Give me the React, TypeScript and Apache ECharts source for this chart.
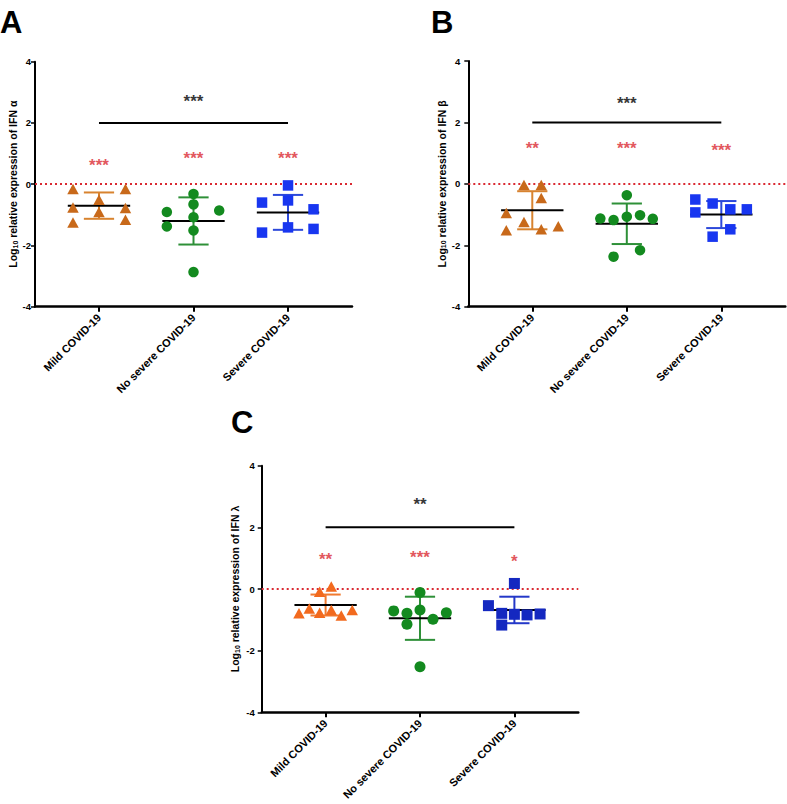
import React, { useEffect, useRef } from "react";
import * as echarts from "echarts";

// ---------- data ----------
const CATEGORIES = ["Mild COVID-19", "No severe COVID-19", "Severe COVID-19"];

// Panel A: IFN alpha (x = jitter offset around the category, y = log10 value)
const A_MILD_X = [-0.275, -0.275, -0.275, 0, 0, 0.28, 0.28, 0.28];
const A_MILD_Y = [-0.16, -0.76, -1.25, -0.51, -0.91, -0.16, -0.78, -1.16];
const A_NOSEV_X = [0, 0, 0, 0, 0, -0.282, -0.282, 0.272];
const A_NOSEV_Y = [-0.32, -0.66, -1.08, -1.51, -2.87, -0.91, -1.38, -0.86];
const A_SEV_X = [0, 0, 0, -0.275, -0.275, 0.27, 0.27];
const A_SEV_Y = [-0.04, -0.53, -1.41, -0.6, -1.58, -0.82, -1.46];
const A_MEAN = [-0.7, -1.2, -0.92];
const A_SD = [0.43, 0.77, 0.57];
const A_STARS = ["***", "***", "***"];
const A_STAR_Y = [0.74, 0.96, 0.96];
const A_TOP = "***";
const A_TOP_Y = 2.83;

// Panel B: IFN beta
const B_MILD_X = [-0.088, 0.095, 0.095, -0.275, -0.088, -0.275, 0.095, 0.275];
const B_MILD_Y = [-0.04, -0.04, -0.46, -0.95, -1.24, -1.51, -1.48, -1.38];
const B_NOSEV_X = [0, -0.28, -0.14, 0, 0.14, 0.275, 0.14, -0.14];
const B_NOSEV_Y = [-0.37, -1.13, -1.18, -1.07, -1.02, -1.14, -2.16, -2.37];
const B_SEV_X = [-0.275, -0.275, -0.092, 0.095, 0.27, 0.095, -0.092];
const B_SEV_Y = [-0.51, -0.93, -0.64, -0.83, -0.83, -1.48, -1.72];
const B_MEAN = [-0.86, -1.3, -1.0];
const B_SD = [0.62, 0.66, 0.44];
const B_STARS = ["**", "***", "***"];
const B_STAR_Y = [1.28, 1.28, 1.2];
const B_TOP = "***";
const B_TOP_Y = 2.72;

// Panel C: IFN lambda
const C_MILD_X = [0.06, -0.063, -0.173, -0.282, -0.063, 0.06, 0.166, 0.282];
const C_MILD_Y = [0.08, -0.09, -0.63, -0.79, -0.77, -0.68, -0.86, -0.68];
const C_NOSEV_X = [0, 0, -0.279, -0.138, 0.279, -0.138, 0.138, 0];
const C_NOSEV_Y = [-0.11, -0.68, -0.71, -0.79, -0.77, -1.14, -0.98, -2.52];
const C_SEV_X = [0, -0.275, -0.134, -0.134, 0, 0.134, 0.272];
const C_SEV_Y = [0.18, -0.54, -0.79, -1.17, -0.82, -0.84, -0.81];
const C_MEAN = [-0.52, -0.95, -0.68];
const C_SD = [0.34, 0.7, 0.43];
const C_STARS = ["**", "***", "*"];
const C_STAR_Y = [1.07, 1.13, 0.99];
const C_TOP = "**";
const C_TOP_Y = 2.85;

// ---------- styling ----------
const FONT = "'Liberation Sans', Arial, sans-serif";
const RED = "#DA2A32";

type Panel = {
  letter: string;
  ifn: string;
  grid: { left: number; top: number; width: number; height: number };
  nameGap: number;
  labelMargin: number;
  groups: { x: number[]; y: number[]; symbol: string; size: any; color: string; errColor: string }[];
  mean: number[];
  sd: number[];
  stars: string[];
  starY: number[];
  top: string;
  topY: number;
  letterPos: [number, number];
};

const PANELS: Panel[] = [
  {
    letter: "A",
    ifn: "α",
    grid: { left: 35, top: 61.7, width: 317, height: 245 },
    nameGap: 15,
    labelMargin: 4,
    groups: [
      { x: A_MILD_X, y: A_MILD_Y, symbol: "triangle", size: [11.5, 10.5], color: "#C8691A", errColor: "#D8832F" },
      { x: A_NOSEV_X, y: A_NOSEV_Y, symbol: "circle", size: 10.5, color: "#138A1F", errColor: "#2E9038" },
      { x: A_SEV_X, y: A_SEV_Y, symbol: "rect", size: 10.5, color: "#1836F0", errColor: "#2C48DA" },
    ],
    mean: A_MEAN,
    sd: A_SD,
    stars: A_STARS,
    starY: A_STAR_Y,
    top: A_TOP,
    topY: A_TOP_Y,
    letterPos: [0, 7],
  },
  {
    letter: "B",
    ifn: "β",
    grid: { left: 468.3, top: 61, width: 317, height: 245.7 },
    nameGap: 21,
    labelMargin: 8,
    groups: [
      { x: B_MILD_X, y: B_MILD_Y, symbol: "triangle", size: [11.5, 10.5], color: "#C8691A", errColor: "#D8832F" },
      { x: B_NOSEV_X, y: B_NOSEV_Y, symbol: "circle", size: 10.5, color: "#138A1F", errColor: "#2E9038" },
      { x: B_SEV_X, y: B_SEV_Y, symbol: "rect", size: 10.5, color: "#1836F0", errColor: "#2C48DA" },
    ],
    mean: B_MEAN,
    sd: B_SD,
    stars: B_STARS,
    starY: B_STAR_Y,
    top: B_TOP,
    topY: B_TOP_Y,
    letterPos: [431, 7],
  },
  {
    letter: "C",
    ifn: "λ",
    grid: { left: 261.7, top: 465.7, width: 316.6, height: 246.6 },
    nameGap: 21,
    labelMargin: 7,
    groups: [
      { x: C_MILD_X, y: C_MILD_Y, symbol: "triangle", size: [11.5, 10.5], color: "#F26A1E", errColor: "#F07A30" },
      { x: C_NOSEV_X, y: C_NOSEV_Y, symbol: "circle", size: 11, color: "#138A1F", errColor: "#2E9038" },
      { x: C_SEV_X, y: C_SEV_Y, symbol: "rect", size: 11, color: "#1428C0", errColor: "#2438C8" },
    ],
    mean: C_MEAN,
    sd: C_SD,
    stars: C_STARS,
    starY: C_STAR_Y,
    top: C_TOP,
    topY: C_TOP_Y,
    letterPos: [231, 407],
  },
];

function buildOption() {
  const grid: any[] = [];
  const xAxis: any[] = [];
  const yAxis: any[] = [];
  const series: any[] = [];
  const graphic: any[] = [];

  PANELS.forEach((p, pi) => {
    grid.push({ ...p.grid, containLabel: false });
    xAxis.push({
      type: "value",
      gridIndex: pi,
      min: 0.323,
      max: 3.677,
      splitLine: { show: false },
      axisLine: { show: true, onZero: false, lineStyle: { color: "#000", width: 2.5 } },
      axisTick: { show: true, customValues: [1, 2, 3], length: 5, lineStyle: { color: "#000", width: 2 } },
      axisLabel: {
        show: true,
        customValues: [1, 2, 3],
        rotate: 45,
        margin: 9,
        color: "#000",
        fontSize: 11,
        fontWeight: "bold",
        fontFamily: FONT,
        formatter: (v: number) => CATEGORIES[Math.round(v) - 1] ?? "",
      },
    });
    yAxis.push({
      type: "value",
      gridIndex: pi,
      min: -4,
      max: 4,
      interval: 2,
      splitLine: { show: false },
      axisLine: { show: true, onZero: false, lineStyle: { color: "#000", width: 2 } },
      axisTick: { show: true, length: 4, lineStyle: { color: "#000", width: 1.5 } },
      axisLabel: { color: "#000", fontSize: 9.5, fontWeight: "bold", fontFamily: FONT, margin: p.labelMargin },
      name: `{n|Log}{s|10}{n| relative expression of IFN ${p.ifn}}`,
      nameLocation: "middle",
      nameGap: p.nameGap,
      nameRotate: 90,
      nameTextStyle: {
        rich: {
          n: { fontSize: 10.5, fontWeight: "bold", fontFamily: FONT, color: "#000" },
          s: { fontSize: 7, fontWeight: "bold", fontFamily: FONT, color: "#000", verticalAlign: "bottom" },
        },
      },
    });

    // reference line at 0
    series.push({
      type: "line",
      xAxisIndex: pi,
      yAxisIndex: pi,
      data: [],
      silent: true,
      markLine: {
        silent: true,
        symbol: "none",
        label: { show: false },
        lineStyle: { color: RED, width: 2, type: [2, 3] },
        data: [{ yAxis: 0 }],
      },
    });

    // comparison bar
    series.push({
      type: "line",
      xAxisIndex: pi,
      yAxisIndex: pi,
      data: [
        [1, 2],
        [3, 2],
      ],
      symbol: "none",
      lineStyle: { color: "#000", width: 2 },
      silent: true,
      z: 3,
    });

    // mean +/- SD
    const errColors = p.groups.map((g) => g.errColor);
    series.push({
      type: "custom",
      xAxisIndex: pi,
      yAxisIndex: pi,
      data: p.mean.map((m, i) => [i + 1, m, p.sd[i]]),
      z: 4,
      silent: true,
      renderItem: (params: any, api: any) => {
        const x = api.value(0);
        const m = api.value(1);
        const s = api.value(2);
        const c = errColors[params.dataIndex];
        const pt = (dx: number, y: number) => api.coord([x + dx, y]);
        const ln = (a: number[], b: number[], stroke: string) => ({
          type: "line",
          shape: { x1: a[0], y1: a[1], x2: b[0], y2: b[1] },
          style: { stroke, lineWidth: 2 },
        });
        return {
          type: "group",
          children: [
            ln(pt(0, m + s), pt(0, m - s), c),
            ln(pt(-0.16, m + s), pt(0.16, m + s), c),
            ln(pt(-0.16, m - s), pt(0.16, m - s), c),
            ln(pt(-0.33, m), pt(0.33, m), "#000"),
          ],
        };
      },
    });

    // points
    p.groups.forEach((g, gi) => {
      series.push({
        type: "scatter",
        xAxisIndex: pi,
        yAxisIndex: pi,
        symbol: g.symbol,
        symbolSize: g.size,
        itemStyle: { color: g.color, opacity: 1 },
        data: g.y.map((v, k) => [gi + 1 + g.x[k], v]),
        z: 5,
        silent: true,
      });
    });

    // significance asterisks
    const starLabel = (color: string) => ({
      show: true,
      position: "inside",
      color,
      fontSize: 17,
      fontWeight: "bold",
      fontFamily: FONT,
      offset: [0, 3.5],
    });
    series.push({
      type: "scatter",
      xAxisIndex: pi,
      yAxisIndex: pi,
      symbolSize: 0,
      silent: true,
      data: p.stars.map((s, i) => ({ value: [i + 1, p.starY[i]], label: { ...starLabel(RED), formatter: s } })),
      z: 6,
    });
    series.push({
      type: "scatter",
      xAxisIndex: pi,
      yAxisIndex: pi,
      symbolSize: 0,
      silent: true,
      data: [{ value: [2, p.topY], label: { ...starLabel("#000"), formatter: p.top } }],
      z: 6,
    });

    graphic.push({
      type: "text",
      left: p.letterPos[0],
      top: p.letterPos[1],
      style: { text: p.letter, fontSize: 31, fontWeight: "bold", fontFamily: FONT, fill: "#000" },
    });
  });

  return {
    animation: false,
    backgroundColor: "#fff",
    grid,
    xAxis,
    yAxis,
    series,
    graphic,
  };
}

export default function App() {
  const ref = useRef<HTMLDivElement>(null);
  useEffect(() => {
    if (!ref.current) return;
    const chart = echarts.init(ref.current, undefined, { renderer: "svg" });
    chart.setOption(buildOption() as any);
    return () => chart.dispose();
  }, []);
  return (
    <div
      ref={ref}
      style={{ position: "fixed", left: 0, top: 0, width: 787, height: 804, background: "#fff" }}
    />
  );
}
